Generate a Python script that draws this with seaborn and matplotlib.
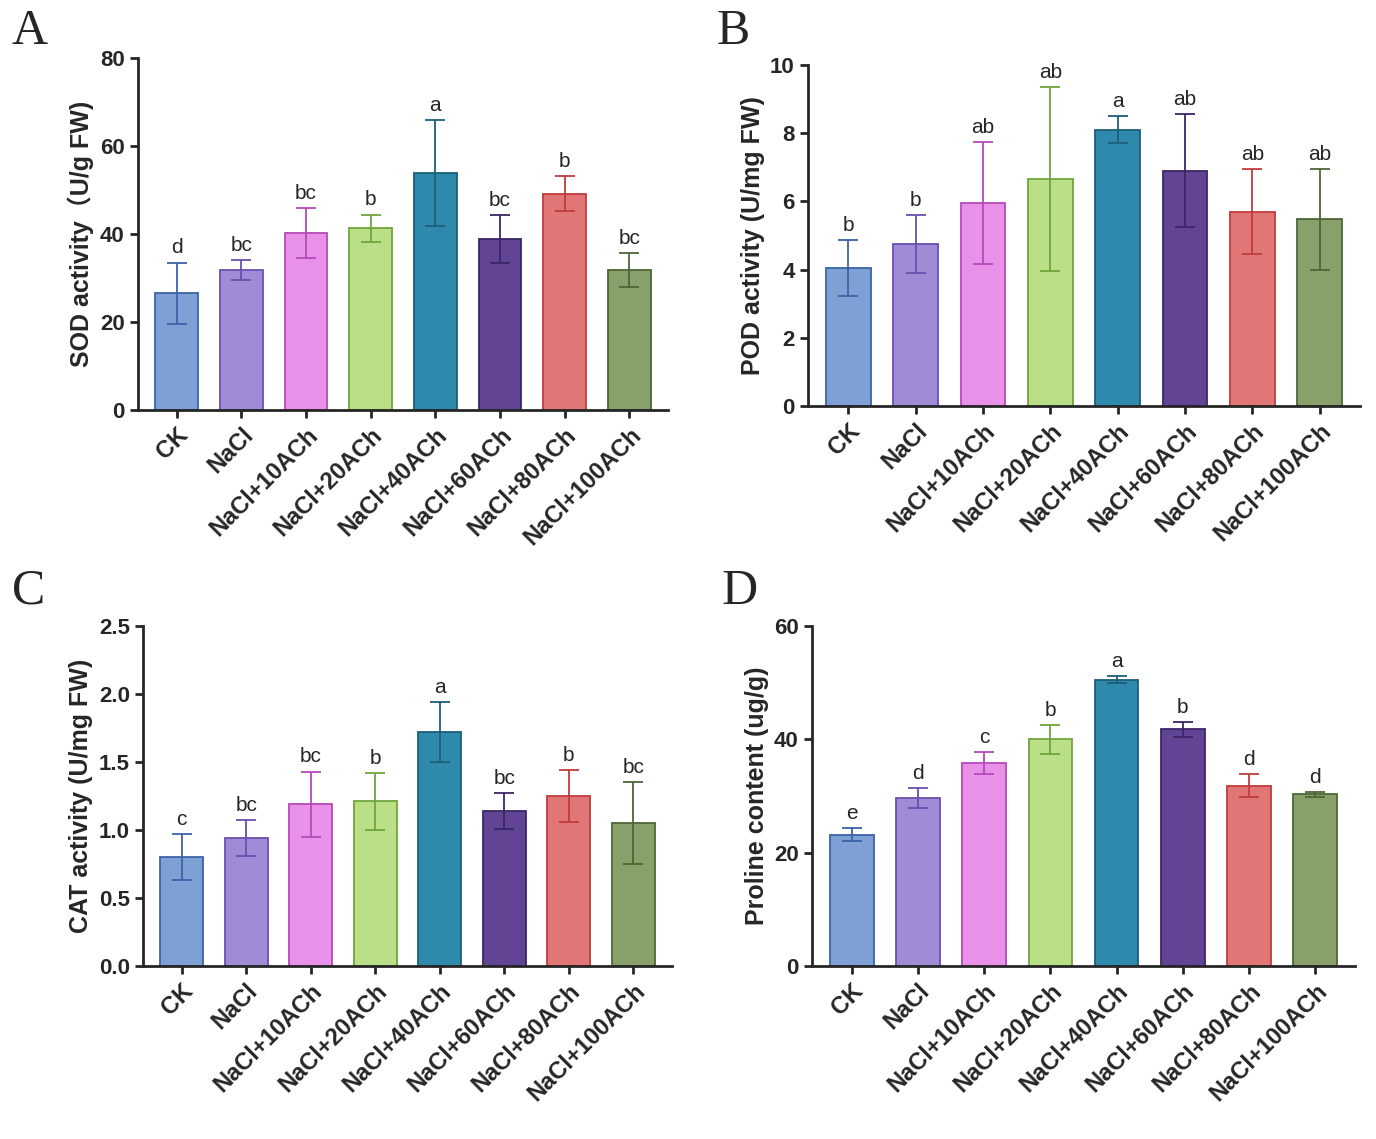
import matplotlib
matplotlib.use("Agg")
import matplotlib.pyplot as plt
import seaborn as sns
import pandas as pd

# Treatments and colours
groups = ["CK", "NaCl", "NaCl+10ACh", "NaCl+20ACh", "NaCl+40ACh",
          "NaCl+60ACh", "NaCl+80ACh", "NaCl+100ACh"]
fill_colors = ["#7fa0d5", "#a08bd6", "#e990e8", "#badf86", "#2e89ad",
               "#614594", "#e07676", "#88a16b"]
edge_colors = ["#3b62a8", "#6a4fb0", "#b54ab8", "#6fa53c", "#1d5f7a",
               "#3b2668", "#c03c3c", "#4e6636"]

# Panel data (mean, sd, letters)
sod_mean = [26.5, 31.8, 40.2, 41.3, 53.8, 38.8, 49.2, 31.8]
sod_err = [7.0, 2.3, 5.6, 3.1, 12.0, 5.5, 4.0, 3.8]
sod_letters = ["d", "bc", "bc", "b", "a", "bc", "b", "bc"]

pod_mean = [4.05, 4.75, 5.95, 6.65, 8.1, 6.9, 5.7, 5.48]
pod_err = [0.82, 0.85, 1.8, 2.7, 0.4, 1.65, 1.25, 1.48]
pod_letters = ["b", "b", "ab", "ab", "a", "ab", "ab", "ab"]

cat_mean = [0.80, 0.94, 1.19, 1.21, 1.72, 1.14, 1.25, 1.05]
cat_err = [0.17, 0.13, 0.24, 0.21, 0.22, 0.13, 0.19, 0.30]
cat_letters = ["c", "bc", "bc", "b", "a", "bc", "b", "bc"]

pro_mean = [23.2, 29.6, 35.8, 40.0, 50.5, 41.8, 31.8, 30.3]
pro_err = [1.2, 1.8, 2.0, 2.6, 0.6, 1.3, 2.0, 0.4]
pro_letters = ["e", "d", "c", "b", "a", "b", "d", "d"]

sns.set_style("ticks")
plt.rcParams['font.family'] = ['Liberation Sans', 'Noto Sans CJK SC', 'DejaVu Sans']

fig = plt.figure(figsize=(13.76, 11.39), dpi=100)
W, H = 1376, 1139

def px_axes(x0, y0, x1, y1):
    return fig.add_axes([x0 / W, 1 - y1 / H, (x1 - x0) / W, (y1 - y0) / H])

panels = [
    ("A", (138, 58, 668, 410), sod_mean, sod_err, sod_letters, 80, 20, "SOD activity\uff08U/g FW)", "{:.0f}", (12, 55)),
    ("B", (808, 65, 1360, 406), pod_mean, pod_err, pod_letters, 10, 2, "POD activity (U/mg FW)", "{:.0f}", (717, 55)),
    ("C", (143, 626, 672, 966), cat_mean, cat_err, cat_letters, 2.5, 0.5, "CAT activity (U/mg FW)", "{:.1f}", (12, 615)),
    ("D", (812, 626, 1355, 966), pro_mean, pro_err, pro_letters, 60, 20, "Proline content (ug/g)", "{:.0f}", (722, 615)),
]

for tag, box, mean, err, letters, ymax, step, ylabel, fmt, tagpos in panels:
    ax = px_axes(*box)
    df = pd.DataFrame({"group": groups, "value": mean})
    sns.barplot(data=df, x="group", y="value", hue="group", palette=fill_colors,
                saturation=1, legend=False, width=0.66, ax=ax)
    for i, p in enumerate(ax.patches):
        p.set_edgecolor(edge_colors[i])
        p.set_linewidth(1.3)
        ax.errorbar(i, mean[i], yerr=err[i], color=edge_colors[i],
                    capsize=7, elinewidth=1.3, capthick=1.3)
        ax.text(i, mean[i] + err[i] + ymax * 0.015, letters[i],
                ha="center", va="bottom", fontsize=15)
    ax.set_ylim(0, ymax)
    ax.set_xlim(-0.6, 7.6)
    ticks = [k * step for k in range(int(round(ymax / step)) + 1)]
    ax.set_yticks(ticks)
    ax.set_yticklabels([fmt.format(t) for t in ticks], fontsize=16, fontweight="bold")
    ax.set_xticks(range(8))
    ax.set_xticklabels(groups, rotation=45, ha="right", rotation_mode="anchor",
                       fontsize=17, fontweight="bold")
    ax.set_xlabel("")
    ax.set_ylabel(ylabel, fontsize=18, fontweight="bold")
    for s in ["left", "bottom"]:
        ax.spines[s].set_linewidth(2)
    sns.despine(ax=ax)
    ax.tick_params(width=2, length=6)
    fig.text(tagpos[0] / W, 1 - tagpos[1] / H, tag, fontsize=36,
             family=['Liberation Serif', 'DejaVu Serif'], va="bottom")

fig.savefig("out.png", dpi=100)
